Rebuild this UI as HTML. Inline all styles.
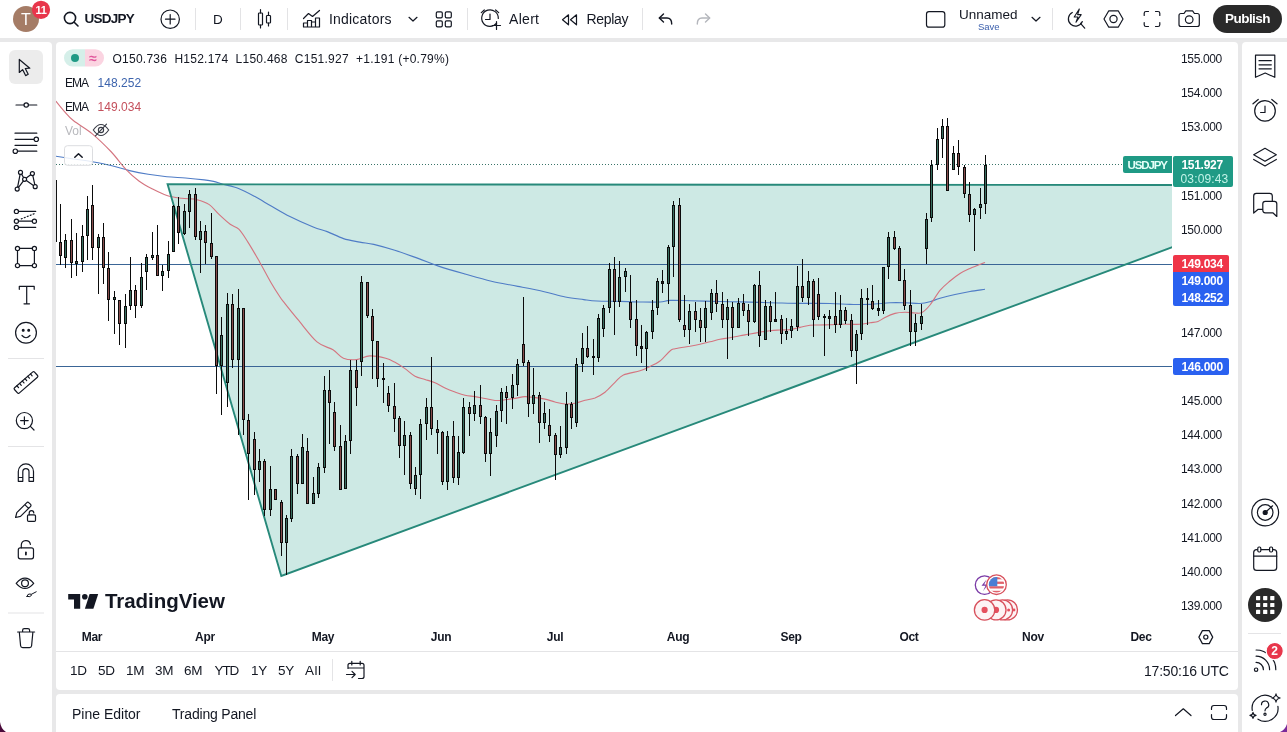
<!DOCTYPE html>
<html><head><meta charset="utf-8"><title>USDJPY</title>
<style>
*{box-sizing:border-box;margin:0;padding:0}
html,body{width:1287px;height:732px;overflow:hidden;background:#e8e8e9;font-family:"Liberation Sans",sans-serif;color:#131722}
.abs{position:absolute}
#top{position:absolute;left:0;top:0;width:1287px;height:38px;background:#fff}
#left{position:absolute;left:0;top:42px;width:52px;height:690px;background:#fff;border-top-right-radius:4px}
#main{position:absolute;left:56px;top:42px;width:1182px;height:648px;background:#fff;border-radius:4px}
#bottom{position:absolute;left:56px;top:694px;width:1182px;height:38px;background:#fff;border-radius:4px 4px 0 0}
#right{position:absolute;left:1242px;top:42px;width:45px;height:690px;background:#fff;border-top-left-radius:4px}
.t14{position:absolute;font-size:14px;line-height:16px;white-space:nowrap;color:#131722}
.sep{position:absolute;top:8px;width:1px;height:22px;background:#e3e3e5}
.pl{position:absolute;left:1181px;width:44px;font-size:12px;line-height:16px;letter-spacing:-0.35px;color:#131722;white-space:nowrap}
.ml{position:absolute;top:629px;width:60px;text-align:center;font-size:12px;line-height:16px;font-weight:bold;color:#131722;letter-spacing:-0.3px}
.tag{position:absolute;color:#fff;font-size:12px;line-height:14px;font-weight:bold;white-space:nowrap;letter-spacing:-0.3px}
.leg{position:absolute;font-size:12px;line-height:16px;white-space:nowrap;letter-spacing:0.25px}
.rng{position:absolute;top:663px;font-size:13.5px;line-height:16px;white-space:nowrap;letter-spacing:-0.2px}
#wrap{position:absolute;left:0;top:0;width:1287px;height:732px;will-change:transform}
</style></head><body><div id="wrap">
<div id="top"></div><div id="left"></div><div id="main"></div><div id="bottom"></div><div id="right"></div>

<svg id="chart" width="1287" height="732" viewBox="0 0 1287 732" style="position:absolute;left:0;top:0">
<defs><clipPath id="pane"><rect x="56" y="42" width="1116" height="578"/></clipPath></defs>
<g clip-path="url(#pane)">
<polygon points="167.6,184.3 1177,185.0 1177,245.5 281.3,576.0" fill="#cde9e4"/>
<g shape-rendering="crispEdges">
<rect x="56" y="264" width="1116" height="1" fill="#3a6596"/>
<rect x="56" y="366" width="1116" height="1" fill="#3a6596"/>
</g>
<path d="M55.9,156.2 C58.8,156.7 67.5,158.1 73.6,159.0 C79.7,159.9 86.1,160.7 92.3,161.8 C98.5,162.9 104.7,164.0 110.9,165.5 C117.1,167.0 123.4,169.1 129.6,170.6 C135.8,172.1 142.0,173.3 148.2,174.3 C154.4,175.3 160.7,176.1 166.9,176.7 C173.1,177.3 179.3,177.5 185.5,178.0 C191.7,178.5 199.5,179.3 204.2,179.9 C208.9,180.5 210.4,180.7 213.5,181.4 C216.6,182.1 218.6,183.0 222.8,184.2 C227.0,185.4 233.2,186.4 238.6,188.5 C243.9,190.6 249.5,193.7 254.9,196.6 C260.3,199.5 265.4,202.7 271.2,206.0 C277.0,209.3 282.9,213.0 289.9,216.5 C296.9,220.0 307.0,224.5 313.2,227.0 C319.4,229.5 322.1,229.7 327.2,231.6 C332.2,233.5 338.1,236.8 343.5,238.6 C348.9,240.3 354.8,241.1 359.8,242.1 C364.9,243.1 368.0,243.0 373.8,244.4 C379.6,245.8 387.4,248.0 394.8,250.3 C402.2,252.6 410.8,255.8 418.1,258.4 C425.4,261.0 430.7,263.5 438.5,266.1 C446.3,268.7 456.2,271.5 465.0,274.0 C473.8,276.5 482.6,279.1 491.4,281.2 C500.2,283.3 509.0,284.6 517.8,286.4 C526.6,288.1 536.3,289.9 544.2,291.7 C552.1,293.5 558.7,295.7 565.3,297.0 C571.9,298.3 578.5,298.9 583.8,299.6 C589.1,300.3 591.0,300.7 597.0,301.0 C603.0,301.3 612.8,301.2 620.0,301.4 C627.2,301.6 633.3,301.9 640.0,302.0 C646.7,302.1 655.0,302.3 660.0,302.0 C665.0,301.7 665.0,300.6 670.0,300.4 C675.0,300.2 681.7,300.5 690.0,300.7 C698.3,300.9 711.7,301.3 720.0,301.5 C728.3,301.7 731.7,301.7 740.0,301.9 C748.3,302.1 760.0,302.4 770.0,302.7 C780.0,302.9 790.0,303.3 800.0,303.4 C810.0,303.5 821.7,303.3 830.0,303.5 C838.3,303.7 843.3,304.2 850.0,304.4 C856.7,304.5 863.3,304.7 870.0,304.4 C876.7,304.1 884.2,303.1 890.0,302.8 C895.8,302.5 900.0,302.7 905.0,302.8 C910.0,302.9 915.8,303.7 920.0,303.5 C924.2,303.3 926.7,302.6 930.0,301.7 C933.3,300.8 935.8,299.5 940.0,298.3 C944.2,297.1 950.0,295.6 955.0,294.5 C960.0,293.4 965.0,292.4 970.0,291.5 C975.0,290.6 982.5,289.7 985.0,289.3" fill="none" stroke="#4f7cc6" stroke-width="1.15"/>
<path d="M55.9,101.2 C57.3,102.9 61.3,108.1 64.3,111.4 C67.2,114.7 68.9,117.1 73.6,120.8 C78.3,124.5 86.1,128.7 92.3,133.8 C98.5,138.9 105.3,145.6 110.9,151.5 C116.5,157.4 121.2,164.4 125.9,169.3 C130.6,174.2 134.6,177.8 138.9,181.0 C143.2,184.2 147.3,186.4 152.0,188.8 C156.7,191.2 161.9,193.9 166.9,195.5 C171.9,197.1 176.8,197.6 181.8,198.3 C186.8,199.0 192.4,198.6 197.0,199.7 C201.6,200.8 205.6,202.1 209.3,204.6 C213.0,207.1 215.5,211.1 219.0,214.4 C222.5,217.7 226.9,221.8 230.2,224.3 C233.5,226.8 235.9,226.2 238.8,229.2 C241.8,232.2 244.4,236.7 247.9,242.1 C251.4,247.5 255.7,255.1 259.6,261.9 C263.5,268.7 267.8,277.0 271.2,282.9 C274.6,288.8 277.7,293.5 280.0,297.0 C282.3,300.5 282.2,300.1 285.2,303.9 C288.2,307.7 292.7,313.4 298.0,319.7 C303.3,326.0 311.2,336.9 317.0,341.9 C322.8,346.9 328.6,347.1 333.0,349.8 C337.4,352.5 339.5,356.6 343.4,358.2 C347.3,359.8 352.2,360.0 356.6,359.6 C361.0,359.2 365.0,356.1 369.8,355.9 C374.6,355.7 381.5,357.2 385.7,358.3 C389.9,359.4 391.8,360.6 395.0,362.3 C398.2,364.0 401.7,366.3 405.0,368.6 C408.3,370.9 411.7,374.4 415.0,376.2 C418.3,378.0 421.7,378.3 425.0,379.4 C428.3,380.5 431.7,381.4 435.0,382.8 C438.3,384.2 441.7,386.5 445.0,388.0 C448.3,389.5 451.7,390.8 455.0,392.0 C458.3,393.2 461.7,394.5 465.0,395.3 C468.3,396.1 471.7,396.1 475.0,396.6 C478.3,397.1 481.7,397.9 485.0,398.5 C488.3,399.1 491.7,400.3 495.0,400.5 C498.3,400.7 501.7,400.2 505.0,399.8 C508.3,399.4 511.7,398.9 515.0,398.4 C518.3,397.9 521.7,396.7 525.0,396.6 C528.3,396.5 531.7,397.2 535.0,397.6 C538.3,398.0 541.7,398.4 545.0,399.1 C548.3,399.8 551.7,401.2 555.0,402.0 C558.3,402.8 561.7,403.8 565.0,404.0 C568.3,404.2 571.7,403.9 575.0,403.3 C578.3,402.7 581.7,401.2 585.0,400.3 C588.3,399.4 591.7,399.2 595.0,397.9 C598.3,396.5 601.7,394.8 605.0,392.2 C608.3,389.6 611.9,385.3 615.0,382.4 C618.1,379.5 619.2,376.9 623.4,375.0 C627.6,373.1 635.6,372.2 640.0,370.8 C644.4,369.4 646.7,368.0 650.0,366.4 C653.3,364.8 656.7,363.6 660.0,361.0 C663.3,358.4 667.5,353.1 670.0,351.0 C672.5,348.9 671.7,349.5 675.0,348.7 C678.3,347.9 685.8,346.9 690.0,346.2 C694.2,345.4 696.7,344.9 700.0,344.2 C703.3,343.5 706.7,342.6 710.0,341.8 C713.3,341.0 716.7,339.9 720.0,339.2 C723.3,338.5 726.7,338.3 730.0,337.7 C733.3,337.1 736.7,336.3 740.0,335.7 C743.3,335.1 746.7,334.6 750.0,334.0 C753.3,333.4 756.7,332.8 760.0,332.2 C763.3,331.6 766.7,331.1 770.0,330.7 C773.3,330.3 776.7,330.2 780.0,330.0 C783.3,329.8 786.7,330.0 790.0,329.6 C793.3,329.2 796.7,328.1 800.0,327.4 C803.3,326.7 806.7,325.6 810.0,325.2 C813.3,324.8 816.7,325.1 820.0,325.0 C823.3,324.9 826.7,324.8 830.0,324.7 C833.3,324.6 836.7,324.4 840.0,324.3 C843.3,324.2 846.7,324.3 850.0,324.3 C853.3,324.3 856.7,324.6 860.0,324.3 C863.3,324.0 867.0,323.2 870.0,322.7 C873.0,322.2 875.5,322.4 878.0,321.5 C880.5,320.6 882.2,318.9 885.0,317.5 C887.8,316.1 891.7,314.3 895.0,313.4 C898.3,312.5 901.7,312.4 905.0,312.3 C908.3,312.2 912.2,313.0 915.0,313.0 C917.8,313.0 919.5,313.8 922.0,312.5 C924.5,311.2 927.0,308.7 930.0,305.0 C933.0,301.3 936.7,294.4 940.0,290.4 C943.3,286.4 946.7,283.8 950.0,281.0 C953.3,278.2 956.7,275.6 960.0,273.5 C963.3,271.4 965.8,270.4 970.0,268.5 C974.2,266.6 982.5,263.4 985.0,262.4" fill="none" stroke="#d4747f" stroke-width="1.1"/>
<line x1="56" y1="164.5" x2="1172" y2="164.5" stroke="#3a7469" stroke-width="1" stroke-dasharray="1 2" shape-rendering="crispEdges"/>
<polyline points="1177,185.0 167.6,184.3 281.3,576.0 1177,245.5" fill="none" stroke="#27897a" stroke-width="1.9" stroke-linejoin="miter"/>
<g shape-rendering="crispEdges">
<rect x="56" y="180" width="1" height="62" fill="#111"/>
<rect x="60" y="204" width="1" height="61" fill="#0b0b0b"/>
<rect x="59" y="242" width="3" height="14" fill="#0b0b0b"/>
<rect x="60" y="243" width="1" height="12" fill="#864c4c"/>
<rect x="65" y="234" width="1" height="34" fill="#0b0b0b"/>
<rect x="64" y="240" width="3" height="18" fill="#0b0b0b"/>
<rect x="65" y="241" width="1" height="16" fill="#386e5f"/>
<rect x="71" y="219" width="1" height="59" fill="#0b0b0b"/>
<rect x="70" y="240" width="3" height="23" fill="#0b0b0b"/>
<rect x="71" y="241" width="1" height="21" fill="#864c4c"/>
<rect x="76" y="233" width="1" height="43" fill="#0b0b0b"/>
<rect x="75" y="261" width="3" height="3" fill="#0b0b0b"/>
<rect x="76" y="262" width="1" height="1" fill="#386e5f"/>
<rect x="82" y="225" width="1" height="47" fill="#0b0b0b"/>
<rect x="81" y="236" width="3" height="26" fill="#0b0b0b"/>
<rect x="82" y="237" width="1" height="24" fill="#386e5f"/>
<rect x="87" y="196" width="1" height="64" fill="#0b0b0b"/>
<rect x="86" y="209" width="3" height="27" fill="#0b0b0b"/>
<rect x="87" y="210" width="1" height="25" fill="#386e5f"/>
<rect x="92" y="185" width="1" height="75" fill="#0b0b0b"/>
<rect x="91" y="205" width="3" height="43" fill="#0b0b0b"/>
<rect x="92" y="206" width="1" height="41" fill="#864c4c"/>
<rect x="98" y="234" width="1" height="60" fill="#0b0b0b"/>
<rect x="97" y="237" width="3" height="11" fill="#0b0b0b"/>
<rect x="98" y="238" width="1" height="9" fill="#386e5f"/>
<rect x="103" y="223" width="1" height="61" fill="#0b0b0b"/>
<rect x="102" y="237" width="3" height="31" fill="#0b0b0b"/>
<rect x="103" y="238" width="1" height="29" fill="#864c4c"/>
<rect x="108" y="252" width="1" height="69" fill="#0b0b0b"/>
<rect x="107" y="268" width="3" height="32" fill="#0b0b0b"/>
<rect x="108" y="269" width="1" height="30" fill="#864c4c"/>
<rect x="114" y="291" width="1" height="43" fill="#0b0b0b"/>
<rect x="113" y="297" width="3" height="3" fill="#0b0b0b"/>
<rect x="114" y="298" width="1" height="1" fill="#386e5f"/>
<rect x="119" y="300" width="1" height="45" fill="#0b0b0b"/>
<rect x="118" y="300" width="3" height="24" fill="#0b0b0b"/>
<rect x="119" y="301" width="1" height="22" fill="#864c4c"/>
<rect x="125" y="294" width="1" height="54" fill="#0b0b0b"/>
<rect x="124" y="306" width="3" height="18" fill="#0b0b0b"/>
<rect x="125" y="307" width="1" height="16" fill="#386e5f"/>
<rect x="130" y="257" width="1" height="53" fill="#0b0b0b"/>
<rect x="129" y="290" width="3" height="16" fill="#0b0b0b"/>
<rect x="130" y="291" width="1" height="14" fill="#386e5f"/>
<rect x="135" y="285" width="1" height="33" fill="#0b0b0b"/>
<rect x="134" y="290" width="3" height="16" fill="#0b0b0b"/>
<rect x="135" y="291" width="1" height="14" fill="#864c4c"/>
<rect x="141" y="263" width="1" height="45" fill="#0b0b0b"/>
<rect x="140" y="277" width="3" height="29" fill="#0b0b0b"/>
<rect x="141" y="278" width="1" height="27" fill="#386e5f"/>
<rect x="146" y="254" width="1" height="36" fill="#0b0b0b"/>
<rect x="145" y="257" width="3" height="15" fill="#0b0b0b"/>
<rect x="146" y="258" width="1" height="13" fill="#386e5f"/>
<rect x="152" y="232" width="1" height="28" fill="#0b0b0b"/>
<rect x="151" y="255" width="3" height="3" fill="#0b0b0b"/>
<rect x="152" y="256" width="1" height="1" fill="#386e5f"/>
<rect x="157" y="225" width="1" height="51" fill="#0b0b0b"/>
<rect x="156" y="255" width="3" height="21" fill="#0b0b0b"/>
<rect x="157" y="256" width="1" height="19" fill="#864c4c"/>
<rect x="162" y="265" width="1" height="26" fill="#0b0b0b"/>
<rect x="161" y="271" width="3" height="5" fill="#0b0b0b"/>
<rect x="162" y="272" width="1" height="3" fill="#386e5f"/>
<rect x="168" y="241" width="1" height="37" fill="#0b0b0b"/>
<rect x="167" y="254" width="3" height="17" fill="#0b0b0b"/>
<rect x="168" y="255" width="1" height="15" fill="#386e5f"/>
<rect x="173" y="205" width="1" height="47" fill="#0b0b0b"/>
<rect x="172" y="206" width="3" height="46" fill="#0b0b0b"/>
<rect x="173" y="207" width="1" height="44" fill="#386e5f"/>
<rect x="178" y="197" width="1" height="47" fill="#0b0b0b"/>
<rect x="177" y="206" width="3" height="27" fill="#0b0b0b"/>
<rect x="178" y="207" width="1" height="25" fill="#864c4c"/>
<rect x="184" y="204" width="1" height="31" fill="#0b0b0b"/>
<rect x="183" y="211" width="3" height="23" fill="#0b0b0b"/>
<rect x="184" y="212" width="1" height="21" fill="#386e5f"/>
<rect x="189" y="190" width="1" height="38" fill="#0b0b0b"/>
<rect x="188" y="194" width="3" height="18" fill="#0b0b0b"/>
<rect x="189" y="195" width="1" height="16" fill="#386e5f"/>
<rect x="195" y="188" width="1" height="52" fill="#0b0b0b"/>
<rect x="194" y="194" width="3" height="43" fill="#0b0b0b"/>
<rect x="195" y="195" width="1" height="41" fill="#864c4c"/>
<rect x="200" y="221" width="1" height="52" fill="#0b0b0b"/>
<rect x="199" y="231" width="3" height="9" fill="#0b0b0b"/>
<rect x="200" y="232" width="1" height="7" fill="#386e5f"/>
<rect x="205" y="225" width="1" height="39" fill="#0b0b0b"/>
<rect x="204" y="231" width="3" height="12" fill="#0b0b0b"/>
<rect x="205" y="232" width="1" height="10" fill="#864c4c"/>
<rect x="211" y="213" width="1" height="46" fill="#0b0b0b"/>
<rect x="210" y="243" width="3" height="14" fill="#0b0b0b"/>
<rect x="211" y="244" width="1" height="12" fill="#864c4c"/>
<rect x="216" y="256" width="1" height="138" fill="#0b0b0b"/>
<rect x="215" y="256" width="3" height="110" fill="#0b0b0b"/>
<rect x="216" y="257" width="1" height="108" fill="#864c4c"/>
<rect x="221" y="317" width="1" height="98" fill="#0b0b0b"/>
<rect x="220" y="335" width="3" height="31" fill="#0b0b0b"/>
<rect x="221" y="336" width="1" height="29" fill="#386e5f"/>
<rect x="227" y="293" width="1" height="114" fill="#0b0b0b"/>
<rect x="226" y="304" width="3" height="79" fill="#0b0b0b"/>
<rect x="227" y="305" width="1" height="77" fill="#386e5f"/>
<rect x="232" y="294" width="1" height="74" fill="#0b0b0b"/>
<rect x="231" y="304" width="3" height="56" fill="#0b0b0b"/>
<rect x="232" y="305" width="1" height="54" fill="#864c4c"/>
<rect x="238" y="289" width="1" height="146" fill="#0b0b0b"/>
<rect x="237" y="308" width="3" height="52" fill="#0b0b0b"/>
<rect x="238" y="309" width="1" height="50" fill="#386e5f"/>
<rect x="243" y="308" width="1" height="127" fill="#0b0b0b"/>
<rect x="242" y="308" width="3" height="112" fill="#0b0b0b"/>
<rect x="243" y="309" width="1" height="110" fill="#864c4c"/>
<rect x="248" y="414" width="1" height="86" fill="#0b0b0b"/>
<rect x="247" y="420" width="3" height="34" fill="#0b0b0b"/>
<rect x="248" y="421" width="1" height="32" fill="#864c4c"/>
<rect x="254" y="432" width="1" height="63" fill="#0b0b0b"/>
<rect x="253" y="439" width="3" height="31" fill="#0b0b0b"/>
<rect x="254" y="440" width="1" height="29" fill="#864c4c"/>
<rect x="259" y="449" width="1" height="33" fill="#0b0b0b"/>
<rect x="258" y="461" width="3" height="9" fill="#0b0b0b"/>
<rect x="259" y="462" width="1" height="7" fill="#386e5f"/>
<rect x="264" y="459" width="1" height="57" fill="#0b0b0b"/>
<rect x="263" y="461" width="3" height="49" fill="#0b0b0b"/>
<rect x="264" y="462" width="1" height="47" fill="#864c4c"/>
<rect x="270" y="466" width="1" height="50" fill="#0b0b0b"/>
<rect x="269" y="489" width="3" height="21" fill="#0b0b0b"/>
<rect x="270" y="490" width="1" height="19" fill="#386e5f"/>
<rect x="275" y="489" width="1" height="11" fill="#0b0b0b"/>
<rect x="274" y="489" width="3" height="11" fill="#0b0b0b"/>
<rect x="275" y="490" width="1" height="9" fill="#864c4c"/>
<rect x="281" y="500" width="1" height="56" fill="#0b0b0b"/>
<rect x="280" y="502" width="3" height="41" fill="#0b0b0b"/>
<rect x="281" y="503" width="1" height="39" fill="#864c4c"/>
<rect x="286" y="515" width="1" height="60" fill="#0b0b0b"/>
<rect x="285" y="518" width="3" height="25" fill="#0b0b0b"/>
<rect x="286" y="519" width="1" height="23" fill="#386e5f"/>
<rect x="291" y="449" width="1" height="73" fill="#0b0b0b"/>
<rect x="290" y="456" width="3" height="63" fill="#0b0b0b"/>
<rect x="291" y="457" width="1" height="61" fill="#386e5f"/>
<rect x="297" y="454" width="1" height="40" fill="#0b0b0b"/>
<rect x="296" y="456" width="3" height="28" fill="#0b0b0b"/>
<rect x="297" y="457" width="1" height="26" fill="#864c4c"/>
<rect x="302" y="434" width="1" height="50" fill="#0b0b0b"/>
<rect x="301" y="447" width="3" height="37" fill="#0b0b0b"/>
<rect x="302" y="448" width="1" height="35" fill="#386e5f"/>
<rect x="307" y="438" width="1" height="66" fill="#0b0b0b"/>
<rect x="306" y="451" width="3" height="53" fill="#0b0b0b"/>
<rect x="307" y="452" width="1" height="51" fill="#864c4c"/>
<rect x="313" y="477" width="1" height="27" fill="#0b0b0b"/>
<rect x="312" y="493" width="3" height="11" fill="#0b0b0b"/>
<rect x="313" y="494" width="1" height="9" fill="#386e5f"/>
<rect x="318" y="463" width="1" height="35" fill="#0b0b0b"/>
<rect x="317" y="467" width="3" height="27" fill="#0b0b0b"/>
<rect x="318" y="468" width="1" height="25" fill="#386e5f"/>
<rect x="324" y="376" width="1" height="97" fill="#0b0b0b"/>
<rect x="323" y="390" width="3" height="78" fill="#0b0b0b"/>
<rect x="324" y="391" width="1" height="76" fill="#386e5f"/>
<rect x="329" y="370" width="1" height="74" fill="#0b0b0b"/>
<rect x="328" y="390" width="3" height="13" fill="#0b0b0b"/>
<rect x="329" y="391" width="1" height="11" fill="#864c4c"/>
<rect x="334" y="402" width="1" height="49" fill="#0b0b0b"/>
<rect x="333" y="412" width="3" height="35" fill="#0b0b0b"/>
<rect x="334" y="413" width="1" height="33" fill="#864c4c"/>
<rect x="340" y="425" width="1" height="65" fill="#0b0b0b"/>
<rect x="339" y="446" width="3" height="44" fill="#0b0b0b"/>
<rect x="340" y="447" width="1" height="42" fill="#864c4c"/>
<rect x="345" y="435" width="1" height="54" fill="#0b0b0b"/>
<rect x="344" y="441" width="3" height="48" fill="#0b0b0b"/>
<rect x="345" y="442" width="1" height="46" fill="#386e5f"/>
<rect x="350" y="360" width="1" height="94" fill="#0b0b0b"/>
<rect x="349" y="370" width="3" height="71" fill="#0b0b0b"/>
<rect x="350" y="371" width="1" height="69" fill="#386e5f"/>
<rect x="356" y="360" width="1" height="46" fill="#0b0b0b"/>
<rect x="355" y="370" width="3" height="18" fill="#0b0b0b"/>
<rect x="356" y="371" width="1" height="16" fill="#864c4c"/>
<rect x="361" y="276" width="1" height="100" fill="#0b0b0b"/>
<rect x="360" y="282" width="3" height="80" fill="#0b0b0b"/>
<rect x="361" y="283" width="1" height="78" fill="#386e5f"/>
<rect x="367" y="282" width="1" height="36" fill="#0b0b0b"/>
<rect x="366" y="282" width="3" height="34" fill="#0b0b0b"/>
<rect x="367" y="283" width="1" height="32" fill="#864c4c"/>
<rect x="372" y="309" width="1" height="70" fill="#0b0b0b"/>
<rect x="371" y="316" width="3" height="25" fill="#0b0b0b"/>
<rect x="372" y="317" width="1" height="23" fill="#864c4c"/>
<rect x="377" y="341" width="1" height="46" fill="#0b0b0b"/>
<rect x="376" y="341" width="3" height="38" fill="#0b0b0b"/>
<rect x="377" y="342" width="1" height="36" fill="#864c4c"/>
<rect x="383" y="363" width="1" height="40" fill="#0b0b0b"/>
<rect x="382" y="378" width="3" height="2" fill="#0b0b0b"/>
<rect x="388" y="386" width="1" height="26" fill="#0b0b0b"/>
<rect x="387" y="393" width="3" height="13" fill="#0b0b0b"/>
<rect x="388" y="394" width="1" height="11" fill="#864c4c"/>
<rect x="394" y="383" width="1" height="49" fill="#0b0b0b"/>
<rect x="393" y="406" width="3" height="13" fill="#0b0b0b"/>
<rect x="394" y="407" width="1" height="11" fill="#864c4c"/>
<rect x="399" y="416" width="1" height="42" fill="#0b0b0b"/>
<rect x="398" y="418" width="3" height="28" fill="#0b0b0b"/>
<rect x="399" y="419" width="1" height="26" fill="#864c4c"/>
<rect x="404" y="421" width="1" height="54" fill="#0b0b0b"/>
<rect x="403" y="435" width="3" height="11" fill="#0b0b0b"/>
<rect x="404" y="436" width="1" height="9" fill="#386e5f"/>
<rect x="410" y="432" width="1" height="57" fill="#0b0b0b"/>
<rect x="409" y="435" width="3" height="49" fill="#0b0b0b"/>
<rect x="410" y="436" width="1" height="47" fill="#864c4c"/>
<rect x="415" y="467" width="1" height="28" fill="#0b0b0b"/>
<rect x="414" y="475" width="3" height="14" fill="#0b0b0b"/>
<rect x="415" y="476" width="1" height="12" fill="#386e5f"/>
<rect x="420" y="419" width="1" height="80" fill="#0b0b0b"/>
<rect x="419" y="424" width="3" height="51" fill="#0b0b0b"/>
<rect x="420" y="425" width="1" height="49" fill="#386e5f"/>
<rect x="426" y="398" width="1" height="42" fill="#0b0b0b"/>
<rect x="425" y="407" width="3" height="17" fill="#0b0b0b"/>
<rect x="426" y="408" width="1" height="15" fill="#386e5f"/>
<rect x="431" y="357" width="1" height="78" fill="#0b0b0b"/>
<rect x="430" y="407" width="3" height="22" fill="#0b0b0b"/>
<rect x="431" y="408" width="1" height="20" fill="#864c4c"/>
<rect x="437" y="420" width="1" height="34" fill="#0b0b0b"/>
<rect x="436" y="429" width="3" height="4" fill="#0b0b0b"/>
<rect x="437" y="430" width="1" height="2" fill="#864c4c"/>
<rect x="442" y="431" width="1" height="54" fill="#0b0b0b"/>
<rect x="441" y="432" width="3" height="50" fill="#0b0b0b"/>
<rect x="442" y="433" width="1" height="48" fill="#864c4c"/>
<rect x="447" y="431" width="1" height="59" fill="#0b0b0b"/>
<rect x="446" y="436" width="3" height="46" fill="#0b0b0b"/>
<rect x="447" y="437" width="1" height="44" fill="#386e5f"/>
<rect x="453" y="421" width="1" height="62" fill="#0b0b0b"/>
<rect x="452" y="436" width="3" height="42" fill="#0b0b0b"/>
<rect x="453" y="437" width="1" height="40" fill="#864c4c"/>
<rect x="458" y="436" width="1" height="49" fill="#0b0b0b"/>
<rect x="457" y="452" width="3" height="26" fill="#0b0b0b"/>
<rect x="458" y="453" width="1" height="24" fill="#386e5f"/>
<rect x="463" y="398" width="1" height="56" fill="#0b0b0b"/>
<rect x="462" y="407" width="3" height="46" fill="#0b0b0b"/>
<rect x="463" y="408" width="1" height="44" fill="#386e5f"/>
<rect x="469" y="402" width="1" height="34" fill="#0b0b0b"/>
<rect x="468" y="407" width="3" height="7" fill="#0b0b0b"/>
<rect x="469" y="408" width="1" height="5" fill="#864c4c"/>
<rect x="474" y="391" width="1" height="30" fill="#0b0b0b"/>
<rect x="473" y="405" width="3" height="9" fill="#0b0b0b"/>
<rect x="474" y="406" width="1" height="7" fill="#386e5f"/>
<rect x="480" y="385" width="1" height="39" fill="#0b0b0b"/>
<rect x="479" y="405" width="3" height="12" fill="#0b0b0b"/>
<rect x="480" y="406" width="1" height="10" fill="#864c4c"/>
<rect x="485" y="416" width="1" height="46" fill="#0b0b0b"/>
<rect x="484" y="417" width="3" height="37" fill="#0b0b0b"/>
<rect x="485" y="418" width="1" height="35" fill="#864c4c"/>
<rect x="490" y="418" width="1" height="58" fill="#0b0b0b"/>
<rect x="489" y="432" width="3" height="22" fill="#0b0b0b"/>
<rect x="490" y="433" width="1" height="20" fill="#386e5f"/>
<rect x="496" y="405" width="1" height="42" fill="#0b0b0b"/>
<rect x="495" y="411" width="3" height="25" fill="#0b0b0b"/>
<rect x="496" y="412" width="1" height="23" fill="#386e5f"/>
<rect x="501" y="388" width="1" height="34" fill="#0b0b0b"/>
<rect x="500" y="392" width="3" height="19" fill="#0b0b0b"/>
<rect x="501" y="393" width="1" height="17" fill="#386e5f"/>
<rect x="506" y="386" width="1" height="38" fill="#0b0b0b"/>
<rect x="505" y="392" width="3" height="6" fill="#0b0b0b"/>
<rect x="506" y="393" width="1" height="4" fill="#864c4c"/>
<rect x="512" y="374" width="1" height="35" fill="#0b0b0b"/>
<rect x="511" y="385" width="3" height="13" fill="#0b0b0b"/>
<rect x="512" y="386" width="1" height="11" fill="#386e5f"/>
<rect x="517" y="359" width="1" height="37" fill="#0b0b0b"/>
<rect x="516" y="364" width="3" height="21" fill="#0b0b0b"/>
<rect x="517" y="365" width="1" height="19" fill="#386e5f"/>
<rect x="523" y="297" width="1" height="69" fill="#0b0b0b"/>
<rect x="522" y="344" width="3" height="19" fill="#0b0b0b"/>
<rect x="523" y="345" width="1" height="17" fill="#864c4c"/>
<rect x="528" y="360" width="1" height="57" fill="#0b0b0b"/>
<rect x="527" y="362" width="3" height="42" fill="#0b0b0b"/>
<rect x="528" y="363" width="1" height="40" fill="#864c4c"/>
<rect x="533" y="368" width="1" height="46" fill="#0b0b0b"/>
<rect x="532" y="395" width="3" height="9" fill="#0b0b0b"/>
<rect x="533" y="396" width="1" height="7" fill="#386e5f"/>
<rect x="539" y="392" width="1" height="51" fill="#0b0b0b"/>
<rect x="538" y="395" width="3" height="28" fill="#0b0b0b"/>
<rect x="539" y="396" width="1" height="26" fill="#864c4c"/>
<rect x="544" y="402" width="1" height="27" fill="#0b0b0b"/>
<rect x="543" y="413" width="3" height="10" fill="#0b0b0b"/>
<rect x="544" y="414" width="1" height="8" fill="#386e5f"/>
<rect x="549" y="409" width="1" height="33" fill="#0b0b0b"/>
<rect x="548" y="425" width="3" height="11" fill="#0b0b0b"/>
<rect x="549" y="426" width="1" height="9" fill="#864c4c"/>
<rect x="555" y="433" width="1" height="47" fill="#0b0b0b"/>
<rect x="554" y="435" width="3" height="20" fill="#0b0b0b"/>
<rect x="555" y="436" width="1" height="18" fill="#864c4c"/>
<rect x="560" y="426" width="1" height="32" fill="#0b0b0b"/>
<rect x="559" y="447" width="3" height="8" fill="#0b0b0b"/>
<rect x="560" y="448" width="1" height="6" fill="#386e5f"/>
<rect x="566" y="392" width="1" height="62" fill="#0b0b0b"/>
<rect x="565" y="404" width="3" height="44" fill="#0b0b0b"/>
<rect x="566" y="405" width="1" height="42" fill="#386e5f"/>
<rect x="571" y="402" width="1" height="27" fill="#0b0b0b"/>
<rect x="570" y="404" width="3" height="14" fill="#0b0b0b"/>
<rect x="571" y="405" width="1" height="12" fill="#864c4c"/>
<rect x="576" y="358" width="1" height="69" fill="#0b0b0b"/>
<rect x="575" y="364" width="3" height="59" fill="#0b0b0b"/>
<rect x="576" y="365" width="1" height="57" fill="#386e5f"/>
<rect x="582" y="333" width="1" height="39" fill="#0b0b0b"/>
<rect x="581" y="348" width="3" height="16" fill="#0b0b0b"/>
<rect x="582" y="349" width="1" height="14" fill="#386e5f"/>
<rect x="587" y="326" width="1" height="32" fill="#0b0b0b"/>
<rect x="586" y="348" width="3" height="9" fill="#0b0b0b"/>
<rect x="587" y="349" width="1" height="7" fill="#864c4c"/>
<rect x="593" y="339" width="1" height="36" fill="#0b0b0b"/>
<rect x="592" y="356" width="3" height="2" fill="#0b0b0b"/>
<rect x="598" y="314" width="1" height="48" fill="#0b0b0b"/>
<rect x="597" y="318" width="3" height="40" fill="#0b0b0b"/>
<rect x="598" y="319" width="1" height="38" fill="#386e5f"/>
<rect x="603" y="305" width="1" height="32" fill="#0b0b0b"/>
<rect x="602" y="308" width="3" height="21" fill="#0b0b0b"/>
<rect x="603" y="309" width="1" height="19" fill="#386e5f"/>
<rect x="609" y="263" width="1" height="50" fill="#0b0b0b"/>
<rect x="608" y="269" width="3" height="39" fill="#0b0b0b"/>
<rect x="609" y="270" width="1" height="37" fill="#386e5f"/>
<rect x="614" y="257" width="1" height="78" fill="#0b0b0b"/>
<rect x="613" y="269" width="3" height="33" fill="#0b0b0b"/>
<rect x="614" y="270" width="1" height="31" fill="#864c4c"/>
<rect x="619" y="261" width="1" height="46" fill="#0b0b0b"/>
<rect x="618" y="277" width="3" height="25" fill="#0b0b0b"/>
<rect x="619" y="278" width="1" height="23" fill="#386e5f"/>
<rect x="625" y="268" width="1" height="24" fill="#0b0b0b"/>
<rect x="624" y="271" width="3" height="6" fill="#0b0b0b"/>
<rect x="625" y="272" width="1" height="4" fill="#386e5f"/>
<rect x="630" y="275" width="1" height="53" fill="#0b0b0b"/>
<rect x="629" y="302" width="3" height="18" fill="#0b0b0b"/>
<rect x="630" y="303" width="1" height="16" fill="#864c4c"/>
<rect x="636" y="300" width="1" height="56" fill="#0b0b0b"/>
<rect x="635" y="319" width="3" height="27" fill="#0b0b0b"/>
<rect x="636" y="320" width="1" height="25" fill="#864c4c"/>
<rect x="641" y="325" width="1" height="38" fill="#0b0b0b"/>
<rect x="640" y="346" width="3" height="3" fill="#0b0b0b"/>
<rect x="641" y="347" width="1" height="1" fill="#222"/>
<rect x="646" y="331" width="1" height="40" fill="#0b0b0b"/>
<rect x="645" y="332" width="3" height="17" fill="#0b0b0b"/>
<rect x="646" y="333" width="1" height="15" fill="#386e5f"/>
<rect x="652" y="300" width="1" height="39" fill="#0b0b0b"/>
<rect x="651" y="310" width="3" height="22" fill="#0b0b0b"/>
<rect x="652" y="311" width="1" height="20" fill="#386e5f"/>
<rect x="657" y="278" width="1" height="37" fill="#0b0b0b"/>
<rect x="656" y="281" width="3" height="27" fill="#0b0b0b"/>
<rect x="657" y="282" width="1" height="25" fill="#386e5f"/>
<rect x="662" y="270" width="1" height="23" fill="#0b0b0b"/>
<rect x="661" y="281" width="3" height="3" fill="#0b0b0b"/>
<rect x="662" y="282" width="1" height="1" fill="#222"/>
<rect x="668" y="245" width="1" height="59" fill="#0b0b0b"/>
<rect x="667" y="247" width="3" height="37" fill="#0b0b0b"/>
<rect x="668" y="248" width="1" height="35" fill="#386e5f"/>
<rect x="673" y="201" width="1" height="76" fill="#0b0b0b"/>
<rect x="672" y="205" width="3" height="42" fill="#0b0b0b"/>
<rect x="673" y="206" width="1" height="40" fill="#386e5f"/>
<rect x="679" y="198" width="1" height="124" fill="#0b0b0b"/>
<rect x="678" y="205" width="3" height="115" fill="#0b0b0b"/>
<rect x="679" y="206" width="1" height="113" fill="#864c4c"/>
<rect x="684" y="295" width="1" height="42" fill="#0b0b0b"/>
<rect x="683" y="325" width="3" height="5" fill="#0b0b0b"/>
<rect x="684" y="326" width="1" height="3" fill="#864c4c"/>
<rect x="689" y="304" width="1" height="40" fill="#0b0b0b"/>
<rect x="688" y="311" width="3" height="19" fill="#0b0b0b"/>
<rect x="689" y="312" width="1" height="17" fill="#386e5f"/>
<rect x="695" y="302" width="1" height="30" fill="#0b0b0b"/>
<rect x="694" y="311" width="3" height="9" fill="#0b0b0b"/>
<rect x="695" y="312" width="1" height="7" fill="#864c4c"/>
<rect x="700" y="308" width="1" height="34" fill="#0b0b0b"/>
<rect x="699" y="320" width="3" height="8" fill="#0b0b0b"/>
<rect x="700" y="321" width="1" height="6" fill="#864c4c"/>
<rect x="705" y="301" width="1" height="41" fill="#0b0b0b"/>
<rect x="704" y="308" width="3" height="20" fill="#0b0b0b"/>
<rect x="705" y="309" width="1" height="18" fill="#386e5f"/>
<rect x="711" y="289" width="1" height="31" fill="#0b0b0b"/>
<rect x="710" y="293" width="3" height="20" fill="#0b0b0b"/>
<rect x="711" y="294" width="1" height="18" fill="#386e5f"/>
<rect x="716" y="280" width="1" height="32" fill="#0b0b0b"/>
<rect x="715" y="293" width="3" height="11" fill="#0b0b0b"/>
<rect x="716" y="294" width="1" height="9" fill="#864c4c"/>
<rect x="722" y="292" width="1" height="36" fill="#0b0b0b"/>
<rect x="721" y="304" width="3" height="16" fill="#0b0b0b"/>
<rect x="722" y="305" width="1" height="14" fill="#864c4c"/>
<rect x="727" y="299" width="1" height="60" fill="#0b0b0b"/>
<rect x="726" y="307" width="3" height="13" fill="#0b0b0b"/>
<rect x="727" y="308" width="1" height="11" fill="#386e5f"/>
<rect x="732" y="302" width="1" height="38" fill="#0b0b0b"/>
<rect x="731" y="307" width="3" height="21" fill="#0b0b0b"/>
<rect x="732" y="308" width="1" height="19" fill="#864c4c"/>
<rect x="738" y="298" width="1" height="30" fill="#0b0b0b"/>
<rect x="737" y="303" width="3" height="25" fill="#0b0b0b"/>
<rect x="738" y="304" width="1" height="23" fill="#386e5f"/>
<rect x="743" y="294" width="1" height="22" fill="#0b0b0b"/>
<rect x="742" y="303" width="3" height="8" fill="#0b0b0b"/>
<rect x="743" y="304" width="1" height="6" fill="#864c4c"/>
<rect x="748" y="304" width="1" height="32" fill="#0b0b0b"/>
<rect x="747" y="310" width="3" height="12" fill="#0b0b0b"/>
<rect x="748" y="311" width="1" height="10" fill="#864c4c"/>
<rect x="754" y="284" width="1" height="39" fill="#0b0b0b"/>
<rect x="753" y="285" width="3" height="37" fill="#0b0b0b"/>
<rect x="754" y="286" width="1" height="35" fill="#386e5f"/>
<rect x="759" y="271" width="1" height="76" fill="#0b0b0b"/>
<rect x="758" y="285" width="3" height="51" fill="#0b0b0b"/>
<rect x="759" y="286" width="1" height="49" fill="#864c4c"/>
<rect x="765" y="300" width="1" height="40" fill="#0b0b0b"/>
<rect x="764" y="306" width="3" height="34" fill="#0b0b0b"/>
<rect x="765" y="307" width="1" height="32" fill="#386e5f"/>
<rect x="770" y="301" width="1" height="31" fill="#0b0b0b"/>
<rect x="769" y="306" width="3" height="16" fill="#0b0b0b"/>
<rect x="770" y="307" width="1" height="14" fill="#864c4c"/>
<rect x="775" y="292" width="1" height="30" fill="#0b0b0b"/>
<rect x="774" y="319" width="3" height="3" fill="#0b0b0b"/>
<rect x="775" y="320" width="1" height="1" fill="#222"/>
<rect x="781" y="315" width="1" height="29" fill="#0b0b0b"/>
<rect x="780" y="319" width="3" height="15" fill="#0b0b0b"/>
<rect x="781" y="320" width="1" height="13" fill="#864c4c"/>
<rect x="786" y="318" width="1" height="22" fill="#0b0b0b"/>
<rect x="785" y="331" width="3" height="3" fill="#0b0b0b"/>
<rect x="786" y="332" width="1" height="1" fill="#386e5f"/>
<rect x="791" y="319" width="1" height="19" fill="#0b0b0b"/>
<rect x="790" y="326" width="3" height="5" fill="#0b0b0b"/>
<rect x="791" y="327" width="1" height="3" fill="#386e5f"/>
<rect x="797" y="266" width="1" height="65" fill="#0b0b0b"/>
<rect x="796" y="286" width="3" height="41" fill="#0b0b0b"/>
<rect x="797" y="287" width="1" height="39" fill="#386e5f"/>
<rect x="802" y="259" width="1" height="43" fill="#0b0b0b"/>
<rect x="801" y="286" width="3" height="12" fill="#0b0b0b"/>
<rect x="802" y="287" width="1" height="10" fill="#864c4c"/>
<rect x="808" y="271" width="1" height="34" fill="#0b0b0b"/>
<rect x="807" y="281" width="3" height="17" fill="#0b0b0b"/>
<rect x="808" y="282" width="1" height="15" fill="#386e5f"/>
<rect x="813" y="279" width="1" height="58" fill="#0b0b0b"/>
<rect x="812" y="281" width="3" height="39" fill="#0b0b0b"/>
<rect x="813" y="282" width="1" height="37" fill="#864c4c"/>
<rect x="818" y="278" width="1" height="42" fill="#0b0b0b"/>
<rect x="817" y="294" width="3" height="23" fill="#0b0b0b"/>
<rect x="818" y="295" width="1" height="21" fill="#864c4c"/>
<rect x="824" y="314" width="1" height="42" fill="#0b0b0b"/>
<rect x="823" y="316" width="3" height="2" fill="#0b0b0b"/>
<rect x="829" y="310" width="1" height="19" fill="#0b0b0b"/>
<rect x="828" y="316" width="3" height="3" fill="#0b0b0b"/>
<rect x="829" y="317" width="1" height="1" fill="#222"/>
<rect x="835" y="292" width="1" height="41" fill="#0b0b0b"/>
<rect x="834" y="316" width="3" height="9" fill="#0b0b0b"/>
<rect x="835" y="317" width="1" height="7" fill="#864c4c"/>
<rect x="840" y="295" width="1" height="33" fill="#0b0b0b"/>
<rect x="839" y="310" width="3" height="15" fill="#0b0b0b"/>
<rect x="840" y="311" width="1" height="13" fill="#386e5f"/>
<rect x="845" y="307" width="1" height="17" fill="#0b0b0b"/>
<rect x="844" y="310" width="3" height="11" fill="#0b0b0b"/>
<rect x="845" y="311" width="1" height="9" fill="#864c4c"/>
<rect x="851" y="314" width="1" height="43" fill="#0b0b0b"/>
<rect x="850" y="320" width="3" height="31" fill="#0b0b0b"/>
<rect x="851" y="321" width="1" height="29" fill="#864c4c"/>
<rect x="856" y="330" width="1" height="54" fill="#0b0b0b"/>
<rect x="855" y="334" width="3" height="17" fill="#0b0b0b"/>
<rect x="856" y="335" width="1" height="15" fill="#386e5f"/>
<rect x="861" y="289" width="1" height="51" fill="#0b0b0b"/>
<rect x="860" y="298" width="3" height="36" fill="#0b0b0b"/>
<rect x="861" y="299" width="1" height="34" fill="#386e5f"/>
<rect x="867" y="288" width="1" height="37" fill="#0b0b0b"/>
<rect x="866" y="298" width="3" height="2" fill="#0b0b0b"/>
<rect x="872" y="285" width="1" height="25" fill="#0b0b0b"/>
<rect x="871" y="301" width="3" height="8" fill="#0b0b0b"/>
<rect x="872" y="302" width="1" height="6" fill="#864c4c"/>
<rect x="878" y="300" width="1" height="16" fill="#0b0b0b"/>
<rect x="877" y="308" width="3" height="3" fill="#0b0b0b"/>
<rect x="878" y="309" width="1" height="1" fill="#222"/>
<rect x="883" y="267" width="1" height="47" fill="#0b0b0b"/>
<rect x="882" y="267" width="3" height="44" fill="#0b0b0b"/>
<rect x="883" y="268" width="1" height="42" fill="#386e5f"/>
<rect x="888" y="232" width="1" height="47" fill="#0b0b0b"/>
<rect x="887" y="237" width="3" height="30" fill="#0b0b0b"/>
<rect x="888" y="238" width="1" height="28" fill="#386e5f"/>
<rect x="894" y="231" width="1" height="19" fill="#0b0b0b"/>
<rect x="893" y="237" width="3" height="12" fill="#0b0b0b"/>
<rect x="894" y="238" width="1" height="10" fill="#864c4c"/>
<rect x="899" y="246" width="1" height="35" fill="#0b0b0b"/>
<rect x="898" y="248" width="3" height="33" fill="#0b0b0b"/>
<rect x="899" y="249" width="1" height="31" fill="#864c4c"/>
<rect x="904" y="269" width="1" height="41" fill="#0b0b0b"/>
<rect x="903" y="280" width="3" height="26" fill="#0b0b0b"/>
<rect x="904" y="281" width="1" height="24" fill="#864c4c"/>
<rect x="910" y="290" width="1" height="56" fill="#0b0b0b"/>
<rect x="909" y="305" width="3" height="27" fill="#0b0b0b"/>
<rect x="910" y="306" width="1" height="25" fill="#864c4c"/>
<rect x="915" y="314" width="1" height="32" fill="#0b0b0b"/>
<rect x="914" y="323" width="3" height="9" fill="#0b0b0b"/>
<rect x="915" y="324" width="1" height="7" fill="#386e5f"/>
<rect x="921" y="304" width="1" height="26" fill="#0b0b0b"/>
<rect x="920" y="316" width="3" height="8" fill="#0b0b0b"/>
<rect x="921" y="317" width="1" height="6" fill="#386e5f"/>
<rect x="926" y="213" width="1" height="51" fill="#0b0b0b"/>
<rect x="925" y="219" width="3" height="30" fill="#0b0b0b"/>
<rect x="926" y="220" width="1" height="28" fill="#386e5f"/>
<rect x="931" y="160" width="1" height="62" fill="#0b0b0b"/>
<rect x="930" y="165" width="3" height="53" fill="#0b0b0b"/>
<rect x="931" y="166" width="1" height="51" fill="#386e5f"/>
<rect x="937" y="128" width="1" height="42" fill="#0b0b0b"/>
<rect x="936" y="139" width="3" height="26" fill="#0b0b0b"/>
<rect x="937" y="140" width="1" height="24" fill="#386e5f"/>
<rect x="942" y="119" width="1" height="39" fill="#0b0b0b"/>
<rect x="941" y="126" width="3" height="13" fill="#0b0b0b"/>
<rect x="942" y="127" width="1" height="11" fill="#386e5f"/>
<rect x="947" y="118" width="1" height="73" fill="#0b0b0b"/>
<rect x="946" y="126" width="3" height="65" fill="#0b0b0b"/>
<rect x="947" y="127" width="1" height="63" fill="#864c4c"/>
<rect x="953" y="146" width="1" height="24" fill="#0b0b0b"/>
<rect x="952" y="153" width="3" height="17" fill="#0b0b0b"/>
<rect x="953" y="154" width="1" height="15" fill="#386e5f"/>
<rect x="958" y="140" width="1" height="35" fill="#0b0b0b"/>
<rect x="957" y="153" width="3" height="14" fill="#0b0b0b"/>
<rect x="958" y="154" width="1" height="12" fill="#864c4c"/>
<rect x="964" y="165" width="1" height="33" fill="#0b0b0b"/>
<rect x="963" y="167" width="3" height="27" fill="#0b0b0b"/>
<rect x="964" y="168" width="1" height="25" fill="#864c4c"/>
<rect x="969" y="182" width="1" height="40" fill="#0b0b0b"/>
<rect x="968" y="194" width="3" height="21" fill="#0b0b0b"/>
<rect x="969" y="195" width="1" height="19" fill="#864c4c"/>
<rect x="974" y="208" width="1" height="43" fill="#0b0b0b"/>
<rect x="973" y="209" width="3" height="6" fill="#0b0b0b"/>
<rect x="974" y="210" width="1" height="4" fill="#386e5f"/>
<rect x="980" y="188" width="1" height="31" fill="#0b0b0b"/>
<rect x="979" y="204" width="3" height="4" fill="#0b0b0b"/>
<rect x="980" y="205" width="1" height="2" fill="#386e5f"/>
<rect x="985" y="155" width="1" height="59" fill="#0b0b0b"/>
<rect x="984" y="165" width="3" height="39" fill="#0b0b0b"/>
<rect x="985" y="166" width="1" height="37" fill="#386e5f"/>
</g>
</g>
</svg>


<div class="t14" style="left:84.5px;top:11px;font-size:13.5px;font-weight:bold;letter-spacing:-0.75px">USDJPY</div>
<div class="sep" style="left:195px"></div>
<div class="t14" style="left:213px;top:11.5px;font-size:13.5px">D</div>
<div class="sep" style="left:240px"></div>
<div class="sep" style="left:287px"></div>
<div class="t14" style="left:329px;top:11px;letter-spacing:0.2px">Indicators</div>
<div class="sep" style="left:467px"></div>
<div class="t14" style="left:509px;top:11px;letter-spacing:0.3px">Alert</div>
<div class="t14" style="left:586.5px;top:11px;letter-spacing:-0.3px">Replay</div>
<div class="sep" style="left:642px"></div>
<div class="t14" style="left:959px;top:6.5px;font-size:13.5px">Unnamed</div>
<div class="abs" style="left:978px;top:21px;font-size:9.5px;line-height:11px;color:#3c60ad">Save</div>
<div class="sep" style="left:1052px"></div>
<div class="abs" style="left:1213px;top:5px;width:69px;height:28px;border-radius:14px;background:#2a2a2a;color:#fff;font-size:13.5px;line-height:28px;text-align:center;font-weight:bold;letter-spacing:-0.55px">Publish</div>


<div class="leg" style="left:112.5px;top:51px"><span>O</span>150.736&nbsp; H152.174&nbsp; L150.468&nbsp; C151.927&nbsp; +1.191 (+0.79%)</div>
<div class="leg" style="left:65px;top:75px;letter-spacing:-0.95px">EMA</div><div class="leg" style="left:97.5px;top:75px;color:#3d64ad;letter-spacing:0.05px">148.252</div>
<div class="leg" style="left:65px;top:99px;letter-spacing:-0.95px">EMA</div><div class="leg" style="left:97.5px;top:99px;color:#c4505c;letter-spacing:0.05px">149.034</div>
<div class="leg" style="left:65px;top:123px;color:#b8b9bd;letter-spacing:0">Vol</div>
<div class="abs" style="left:105px;top:589px;font-size:20.5px;line-height:24px;font-weight:bold;letter-spacing:-0.05px;color:#131722">TradingView</div>

<div class="pl" style="top:51px">155.000</div>
<div class="pl" style="top:85px">154.000</div>
<div class="pl" style="top:119px">153.000</div>
<div class="pl" style="top:188px">151.000</div>
<div class="pl" style="top:222px">150.000</div>
<div class="pl" style="top:325px">147.000</div>
<div class="pl" style="top:393px">145.000</div>
<div class="pl" style="top:427px">144.000</div>
<div class="pl" style="top:461px">143.000</div>
<div class="pl" style="top:496px">142.000</div>
<div class="pl" style="top:530px">141.000</div>
<div class="pl" style="top:564px">140.000</div>
<div class="pl" style="top:598px">139.000</div>

<div class="ml" style="left:62px">Mar</div><div class="ml" style="left:175px">Apr</div><div class="ml" style="left:293px">May</div><div class="ml" style="left:411px">Jun</div><div class="ml" style="left:525px">Jul</div><div class="ml" style="left:648px">Aug</div><div class="ml" style="left:761px">Sep</div><div class="ml" style="left:879px">Oct</div><div class="ml" style="left:1003px">Nov</div><div class="ml" style="left:1111px">Dec</div>

<div class="abs" style="left:1123px;top:156px;width:49px;height:17px;background:#1f9a85;border-radius:2px 0 0 2px"></div>
<div class="tag" style="left:1127.5px;top:157.5px;color:#e4fff8;font-size:11.5px;letter-spacing:-1.1px">USDJPY</div>
<div class="abs" style="left:1173px;top:156px;width:60px;height:31px;background:#1f9a85;border-radius:2px"></div>
<div class="tag" style="left:1181.5px;top:157.5px">151.927</div>
<div class="tag" style="left:1180.5px;top:171.5px;font-weight:normal;color:#c2f3e8;letter-spacing:0.15px">03:09:43</div>
<div class="abs" style="left:1173px;top:255px;width:56px;height:17px;background:#ef3548;border-radius:2px 2px 0 0"></div>
<div class="tag" style="left:1181.5px;top:256.5px">149.034</div>
<div class="abs" style="left:1173px;top:272px;width:56px;height:34px;background:#2a61f0;border-radius:0 0 2px 2px"></div>
<div class="tag" style="left:1181.5px;top:273.5px">149.000</div>
<div class="tag" style="left:1181.5px;top:290.5px">148.252</div>
<div class="abs" style="left:1173px;top:358px;width:56px;height:17px;background:#2a61f0;border-radius:2px"></div>
<div class="tag" style="left:1181.5px;top:359.5px">146.000</div>


<div class="abs" style="left:56px;top:651px;width:1182px;height:1px;background:#e4e4e6"></div>
<div class="rng" style="left:70px">1D</div><div class="rng" style="left:98px">5D</div><div class="rng" style="left:126px">1M</div>
<div class="rng" style="left:155px">3M</div><div class="rng" style="left:184px">6M</div><div class="rng" style="left:214.5px;letter-spacing:-1.1px">YTD</div>
<div class="rng" style="left:251px">1Y</div><div class="rng" style="left:278px">5Y</div><div class="rng" style="left:305px;letter-spacing:0.5px">All</div>
<div class="abs" style="left:332px;top:659px;width:1px;height:22px;background:#e4e4e6"></div>
<div class="rng" style="left:1144px;font-size:14px;letter-spacing:-0.2px">17:50:16 UTC</div>
<div class="t14" style="left:72px;top:705.5px;font-size:14px;letter-spacing:0px">Pine Editor</div>
<div class="t14" style="left:172px;top:705.5px;font-size:14px;letter-spacing:-0.2px">Trading Panel</div>

<svg id="ui" width="1287" height="732" viewBox="0 0 1287 732" style="position:absolute;left:0;top:0">
<circle cx="26" cy="19" r="13" fill="#a57c66"/>
<text x="26" y="24.5" font-size="16" fill="#fff" text-anchor="middle" font-family="Liberation Sans">T</text>
<circle cx="41" cy="9.8" r="9.1" fill="#e8364b"/>
<text x="41" y="14" font-size="11" font-weight="bold" fill="#fff" text-anchor="middle" font-family="Liberation Sans" letter-spacing="-0.3">11</text>
<g stroke="#131722" stroke-width="1.6" fill="none" stroke-linecap="round" stroke-linejoin="round"><circle cx="70" cy="18" r="5.6"/><path d="M74.2,22.2 L78,26"/></g>
<g stroke="#131722" stroke-width="1.2" fill="none" stroke-linecap="round" stroke-linejoin="round"><circle cx="170.2" cy="19.2" r="9.2"/><path d="M165.5,19.2 H175 M170.2,14.5 V24"/></g>
<g stroke="#131722" stroke-width="1.2" fill="none" stroke-linecap="round" stroke-linejoin="round"><rect x="258.5" y="13" width="4" height="12" rx="0.8"/><path d="M260.5,9.5 V13 M260.5,25 V28"/><rect x="266.5" y="15.5" width="4" height="7.5" rx="0.8"/><path d="M268.5,12 V15.5 M268.5,23 V26"/></g>
<g stroke="#131722" stroke-width="1.2" fill="none" stroke-linecap="round" stroke-linejoin="round"><path d="M303.5,18.5 L308.5,13.5 L312.5,16.5 L319.5,10.5"/><path d="M303.5,27 V23 H307.5 V27 M307.5,27 V20.5 H311.5 V27 M311.5,27 V22 H315.5 V27 M315.5,27 V18 H319.5 V27 Z M303.5,27 H319.5"/></g>
<g stroke="#131722" stroke-width="1.2" fill="none" stroke-linecap="round" stroke-linejoin="round"><path d="M409,17.3 L413,21 L417,17.3"/></g>
<g stroke="#131722" stroke-width="1.2" fill="none" stroke-linecap="round" stroke-linejoin="round"><rect x="436.3" y="11.8" width="6" height="6" rx="1.3"/><rect x="445.3" y="11.8" width="6" height="6" rx="1.3"/><rect x="436.3" y="20.8" width="6" height="6" rx="1.3"/><rect x="445.3" y="20.8" width="6" height="6" rx="1.3"/></g>
<g stroke="#131722" stroke-width="1.2" fill="none" stroke-linecap="round" stroke-linejoin="round"><path d="M496.6,23.2 A8.3,8.3 0 1 1 498.3,18.5"/><path d="M490,14 V19.5 H485.5"/><path d="M481.3,12.6 L484.3,10 M495.6,10 L498.7,12.6"/><path d="M492.5,25.5 H500.5 M496.5,21.5 V29.5"/></g>
<g stroke="#131722" stroke-width="1.2" fill="none" stroke-linecap="round" stroke-linejoin="round"><path d="M568.5,14.8 L562.5,19.8 L568.5,24.8 Z"/><path d="M576.5,14.8 L570.5,19.8 L576.5,24.8 Z"/></g>
<g stroke="#131722" stroke-width="1.4" fill="none" stroke-linecap="round" stroke-linejoin="round"><path d="M663.5,14 L659.3,18 L663.5,22"/><path d="M659.5,18 H667 Q671.7,18 671.7,24"/></g>
<g stroke="#b4b6bc" stroke-width="1.4" fill="none" stroke-linecap="round" stroke-linejoin="round"><path d="M705.5,14 L709.7,18 L705.5,22"/><path d="M709.5,18 H702 Q697.3,18 697.3,24"/></g>
<g stroke="#131722" stroke-width="1.2" fill="none" stroke-linecap="round" stroke-linejoin="round"><rect x="926.5" y="11.6" width="18.3" height="15.6" rx="2.5"/></g>
<g stroke="#131722" stroke-width="1.2" fill="none" stroke-linecap="round" stroke-linejoin="round"><path d="M1032,17.3 L1036,21 L1040,17.3"/></g>
<g stroke="#131722" stroke-width="1.2" fill="none" stroke-linecap="round" stroke-linejoin="round"><path d="M1072.3,12.5 A7.2,7.2 0 1 0 1082.3,21.5"/><path d="M1080.5,23.3 L1084.7,28.2"/><path d="M1079.3,9 L1074.2,17 H1078 L1076,22.2 L1081.2,14.6 H1077.6 Z" stroke-width="1.1"/></g>
<g stroke="#131722" stroke-width="1.2" fill="none" stroke-linecap="round" stroke-linejoin="round"><path d="M1108.8,10.8 H1118.2 L1123,19 L1118.2,27.2 H1108.8 L1104,19 Z"/><circle cx="1113.5" cy="19" r="3.6"/></g>
<g stroke="#131722" stroke-width="1.2" fill="none" stroke-linecap="round" stroke-linejoin="round"><path d="M1144.2,15.5 V13.3 Q1144.2,11.5 1146,11.5 H1148.5 M1155.5,11.5 H1158 Q1159.8,11.5 1159.8,13.3 V15.5 M1159.8,22.5 V24.7 Q1159.8,26.5 1158,26.5 H1155.5 M1148.5,26.5 H1146 Q1144.2,26.5 1144.2,24.7 V22.5"/></g>
<g stroke="#131722" stroke-width="1.2" fill="none" stroke-linecap="round" stroke-linejoin="round"><path d="M1181,13.5 H1184 L1185.8,10.8 H1192.6 L1194.4,13.5 H1197.3 Q1199.3,13.5 1199.3,15.5 V24.5 Q1199.3,26.5 1197.3,26.5 H1181 Q1179,26.5 1179,24.5 V15.5 Q1179,13.5 1181,13.5 Z"/><circle cx="1189.2" cy="19.6" r="3.8"/></g>
<rect x="9" y="50" width="34" height="34" rx="6" fill="#ececec"/>
<g stroke="#131722" stroke-width="1.2" fill="none" stroke-linecap="round" stroke-linejoin="round"><path d="M19.3,59.5 L19.3,72.5 L22.6,69.6 L25.6,75.6 L28.2,74.3 L25.3,68.5 L29.8,68.2 Z"/></g>
<g stroke="#131722" stroke-width="1.2" fill="none" stroke-linecap="round" stroke-linejoin="round"><path d="M16,105 H24 M28.4,105 H36.8"/><circle cx="26.2" cy="105" r="2.2"/></g>
<g stroke="#131722" stroke-width="1.2" fill="none" stroke-linecap="round" stroke-linejoin="round"><path d="M15,133.2 H36.8 M15,139.3 H34 M15,145.3 H36.8 M17.6,151.2 H36.8"/><circle cx="36.3" cy="139.3" r="2.2" fill="#fff"/><circle cx="15.3" cy="151.2" r="2.2" fill="#fff"/></g>
<g stroke="#131722" stroke-width="1.2" fill="none" stroke-linecap="round" stroke-linejoin="round"><path d="M20.5,172.4 L17.2,189.1 M20.5,172.4 L24.6,179.3 M17.2,189.1 L24.6,179.3 M24.6,179.3 L32.4,173.6 M32.4,173.6 L35.2,186.7 M24.6,179.3 L35.2,186.7 "/><circle cx="20.5" cy="172.4" r="2" fill="#fff"/><circle cx="32.4" cy="173.6" r="2" fill="#fff"/><circle cx="24.6" cy="179.3" r="2" fill="#fff"/><circle cx="35.2" cy="186.7" r="2" fill="#fff"/><circle cx="17.2" cy="189.1" r="2" fill="#fff"/></g>
<g stroke="#131722" stroke-width="1.2" fill="none" stroke-linecap="round" stroke-linejoin="round"><path d="M18.5,211.4 H35.7 M18.5,221.2 H32.3 M18.5,227.4 H35.7"/><path d="M21.3,218.9 L34.4,213.7" stroke-dasharray="1 2.2"/><circle cx="16.4" cy="211.4" r="2.1" /><circle cx="16.4" cy="221.2" r="2.1" /><circle cx="34.4" cy="221.2" r="2.1" /><circle cx="16.4" cy="227.4" r="2.1" /></g>
<g stroke="#131722" stroke-width="1.2" fill="none" stroke-linecap="round" stroke-linejoin="round"><path d="M19.6,248.4 H32.3 M19.6,265.6 H32.3 M17.5,250.5 V263.5 M34.4,250.5 V263.5"/><circle cx="17.5" cy="248.4" r="2.1" /><circle cx="34.4" cy="248.4" r="2.1" /><circle cx="17.5" cy="265.6" r="2.1" /><circle cx="34.4" cy="265.6" r="2.1" /></g>
<g stroke="#131722" stroke-width="1.2" fill="none" stroke-linecap="round" stroke-linejoin="round"><path d="M19.3,289.3 V286.3 H34.2 V289.3 M26.7,286.3 V303.8 M24,303.8 H29.5"/></g>
<g stroke="#131722" stroke-width="1.2" fill="none" stroke-linecap="round" stroke-linejoin="round"><circle cx="26" cy="332.8" r="10.4"/><path d="M22,335.5 Q26,340 30,335.5"/><circle cx="23.2" cy="330.3" r="0.9" fill="#131722"/><circle cx="28.7" cy="330.3" r="0.9" fill="#131722"/></g>
<rect x="8" y="358" width="36" height="1" fill="#e4e4e6"/>
<g stroke="#131722" stroke-width="1.2" fill="none" stroke-linecap="round" stroke-linejoin="round" transform="translate(26,382.5) rotate(-41)"><rect x="-13.3" y="-3.5" width="26.6" height="7" rx="1.2"/><path d="M-9,-3.5 V-1 M-5.4,-3.5 V-1 M-1.8,-3.5 V-1 M1.8,-3.5 V-1 M5.4,-3.5 V-1 M9,-3.5 V-1"/></g>
<g stroke="#131722" stroke-width="1.2" fill="none" stroke-linecap="round" stroke-linejoin="round"><circle cx="24.4" cy="420.6" r="8.1"/><path d="M30.4,426.4 L34,430 M20.6,420.6 H28.2 M24.4,416.8 V424.4"/></g>
<rect x="8" y="446" width="36" height="1" fill="#e4e4e6"/>
<g stroke="#131722" stroke-width="1.2" fill="none" stroke-linecap="round" stroke-linejoin="round"><path d="M18.3,481.3 V471.5 A7.6,7.6 0 0 1 33.5,471.5 V481.3 H29 V471.7 A3.1,3.1 0 0 0 22.8,471.7 V481.3 Z M18.3,477.5 H22.8 M29,477.5 H33.5"/></g>
<g stroke="#131722" stroke-width="1.2" fill="none" stroke-linecap="round" stroke-linejoin="round"><path d="M15.6,517.5 L16.8,512.6 L26.6,502.8 Q27.8,501.6 29,502.8 L30.4,504.2 Q31.6,505.4 30.4,506.6 L20.5,516.4 Z M24.8,504.6 L28.6,508.4"/><rect x="27.5" y="514.8" width="8" height="6.6" rx="1.2" fill="#fff"/><path d="M29.2,514.8 V513 A2.3,2.3 0 0 1 33.8,513"/></g>
<g stroke="#131722" stroke-width="1.2" fill="none" stroke-linecap="round" stroke-linejoin="round"><rect x="18.3" y="547.8" width="15.2" height="11" rx="2"/><path d="M21.3,547.8 V545 A4.6,4.6 0 0 1 30.4,544.3"/><path d="M25.9,552.3 V554.5" stroke-width="1.8"/></g>
<g stroke="#131722" stroke-width="1.2" fill="none" stroke-linecap="round" stroke-linejoin="round"><path d="M16.2,583.3 Q25,573 33.7,583.3 Q25,593.6 16.2,583.3 Z"/><circle cx="25" cy="583.3" r="3.4"/><path d="M27,596.5 Q27.3,593.6 30.2,593.9 L31.6,595.2 Q30.5,597.4 27,596.5 Z M31,594.5 L36.2,591.8" stroke-width="1"/></g>
<rect x="8" y="612.5" width="36" height="1" fill="#e4e4e6"/>
<g stroke="#131722" stroke-width="1.2" fill="none" stroke-linecap="round" stroke-linejoin="round"><path d="M17.6,632 H34.6 M22.6,632 V630.3 Q22.6,628.6 24.3,628.6 H27.9 Q29.6,628.6 29.6,630.3 V632 M19.3,632 L20.6,645.7 Q20.8,647.6 22.7,647.6 H29.5 Q31.4,647.6 31.6,645.7 L32.9,632"/></g>
<g stroke="#131722" stroke-width="1.2" fill="none" stroke-linecap="round" stroke-linejoin="round"><path d="M1255.5,55.2 H1274.8 V77.3 L1265.2,73 L1255.5,77.3 Z M1259,60.7 H1271.3 M1259,64.8 H1271.3 M1259,68.8 H1271.3"/></g>
<g stroke="#131722" stroke-width="1.2" fill="none" stroke-linecap="round" stroke-linejoin="round"><circle cx="1265" cy="110.9" r="10.3"/><path d="M1265,106 V112.5 H1260.6 M1253,103.8 L1258.2,99.5 M1271.8,99.5 L1277,103.8"/></g>
<g stroke="#131722" stroke-width="1.2" fill="none" stroke-linecap="round" stroke-linejoin="round"><path d="M1265,148.3 L1276.3,154.8 L1265,161.3 L1253.7,154.8 Z M1253.7,159.4 L1265,166 L1276.3,159.4"/></g>
<g stroke="#131722" stroke-width="1.2" fill="none" stroke-linecap="round" stroke-linejoin="round"><path d="M1262.5,209.3 H1258.2 L1253.7,213 V196 Q1253.7,193.3 1256.4,193.3 H1269.6 Q1272.3,193.3 1272.3,196 V201"/><path d="M1262.8,203.8 Q1262.8,201.3 1265.3,201.3 H1274.3 Q1276.8,201.3 1276.8,203.8 V216.5 L1272.8,212.8 H1265.3 Q1262.8,212.8 1262.8,210.3 Z" /></g>
<g stroke="#131722" stroke-width="1.2" fill="none" stroke-linecap="round" stroke-linejoin="round"><circle cx="1265.2" cy="512.5" r="13.4"/><circle cx="1265.2" cy="512.5" r="7.8"/><circle cx="1265.2" cy="512.5" r="2" fill="#131722"/><path d="M1265.2,512.5 L1272.6,505.8"/></g>
<g stroke="#131722" stroke-width="1.2" fill="none" stroke-linecap="round" stroke-linejoin="round"><rect x="1253.7" y="549.6" width="23" height="20.8" rx="3"/><path d="M1253.7,556.2 H1276.7"/><rect x="1257.8" y="547" width="3" height="5" rx="1.2" fill="#fff"/><rect x="1269.6" y="547" width="3" height="5" rx="1.2" fill="#fff"/></g>
<circle cx="1265.1" cy="605" r="17.1" fill="#2a2a2a"/>
<rect x="1256.0" y="596.0" width="4.2" height="4.2" rx="0.6" fill="#fff"/>
<rect x="1256.0" y="602.9" width="4.2" height="4.2" rx="0.6" fill="#fff"/>
<rect x="1256.0" y="609.8" width="4.2" height="4.2" rx="0.6" fill="#fff"/>
<rect x="1263.1" y="596.0" width="4.2" height="4.2" rx="0.6" fill="#fff"/>
<rect x="1263.1" y="602.9" width="4.2" height="4.2" rx="0.6" fill="#fff"/>
<rect x="1263.1" y="609.8" width="4.2" height="4.2" rx="0.6" fill="#fff"/>
<rect x="1270.2" y="596.0" width="4.2" height="4.2" rx="0.6" fill="#fff"/>
<rect x="1270.2" y="602.9" width="4.2" height="4.2" rx="0.6" fill="#fff"/>
<rect x="1270.2" y="609.8" width="4.2" height="4.2" rx="0.6" fill="#fff"/>
<rect x="1248" y="633" width="33" height="1" fill="#e4e4e6"/>
<g stroke="#131722" stroke-width="1.2" fill="none" stroke-linecap="round" stroke-linejoin="round"><circle cx="1256.1" cy="669.7" r="1.7"/><path d="M1256.1,662.4 A7.3,7.3 0 0 1 1263.4,669.7 M1256.1,656.2 A13.5,13.5 0 0 1 1269.6,669.7 M1256.1,650 A19.7,19.7 0 0 1 1275.8,669.7"/></g>
<circle cx="1274.7" cy="651" r="8.6" fill="#e8364b" stroke="#fff" stroke-width="1.2"/>
<text x="1274.7" y="655.3" font-size="12" font-weight="bold" fill="#fff" text-anchor="middle" font-family="Liberation Sans">2</text>
<g stroke="#131722" stroke-width="1.2" fill="none" stroke-linecap="round" stroke-linejoin="round"><path d="M1271.5,697 A13,13 0 0 0 1252.3,710.5 M1258,719.2 A13,13 0 0 0 1277.9,706.3"/><path d="M1261.5,704.7 A3.6,3.6 0 1 1 1266.6,707.9 Q1265,708.8 1265,710.8"/><circle cx="1265" cy="714.2" r="1.1"/><path d="M1276,693.8 Q1276.5,697.5 1280.2,698 Q1276.5,698.5 1276,702.2 Q1275.5,698.5 1271.8,698 Q1275.5,697.5 1276,693.8 Z M1253,712.3 Q1253.4,715 1256.1,715.4 Q1253.4,715.8 1253,718.5 Q1252.6,715.8 1249.9,715.4 Q1252.6,715 1253,712.3 Z" stroke-width="1.1"/></g>
<clipPath id="pill"><rect x="64" y="49.2" width="40" height="17.4" rx="8.7"/></clipPath>
<g clip-path="url(#pill)"><rect x="64" y="49" width="21" height="18" fill="#d5efe9"/><rect x="85" y="49" width="20" height="18" fill="#fbd4e1"/></g>
<circle cx="75" cy="58" r="4" fill="#1f9a85"/>
<text x="93" y="62.5" font-size="14" font-weight="bold" fill="#e0569b" text-anchor="middle" font-family="Liberation Sans">≈</text>
<g stroke="#3a3d47" stroke-width="1.15" fill="none" stroke-linecap="round"><path d="M93.3,130 Q101,119 108.7,130 Q101,141 93.3,130 Z"/><circle cx="101" cy="130" r="2.6"/><path d="M95.5,135.8 L106.5,124.2"/></g>
<rect x="64.5" y="145.7" width="28" height="19.6" rx="3" fill="#fff" fill-opacity="0.85" stroke="#dcdde0" stroke-width="1"/>
<path d="M74.8,157.3 L78.5,153.8 L82.2,157.3" stroke="#131722" stroke-width="1.5" fill="none" stroke-linecap="round" stroke-linejoin="round"/>
<g stroke="#131722" stroke-width="1.2" fill="none" stroke-linecap="round" stroke-linejoin="round"><path d="M1202.4,630.6 H1209.2 L1212.7,637.1 L1209.2,643.6 H1202.4 L1198.9,637.1 Z"/><circle cx="1205.8" cy="637.1" r="2.1"/></g>
<g stroke="#131722" stroke-width="1.2" fill="none" stroke-linecap="round" stroke-linejoin="round"><path d="M348,668.5 V665.3 Q348,663.3 350,663.3 H362 Q364,663.3 364,665.3 V676.5 Q364,678.5 362,678.5 H358.5 M348,668 H364 M351.8,661.3 V665 M360.2,661.3 V665 M346.5,674.5 H355 M352,671.3 L355.2,674.5 L352,677.7"/></g>
<g stroke="#131722" stroke-width="1.2" fill="none" stroke-linecap="round" stroke-linejoin="round"><path d="M1175.5,715.5 L1183.3,708.8 L1191,715.5"/><path d="M1211.5,709.5 V708 Q1211.5,705.5 1214,705.5 H1224 Q1226.5,705.5 1226.5,708 V709.5 M1226.5,714.5 V717 Q1226.5,719.5 1224,719.5 H1214 Q1211.5,719.5 1211.5,717 V714.5"/></g>
<g fill="#131722"><path d="M68.2,594 H80.2 V608.8 H74 V599.6 H68.2 Z"/><circle cx="84.8" cy="596.8" r="2.8"/><path d="M89.6,594 H98.2 L93.4,608.8 H84.9 Z"/></g>
<g stroke-width="1.3">
<circle cx="984.6" cy="585.1" r="9.3" fill="#fff" stroke="#7a3aa6"/>
<path d="M986.5,579.5 L981.5,585.8 H985.5 L983,591.2 L988,584.5 H984.2 Z" fill="#7a3aa6" stroke="none"/>
<circle cx="996.5" cy="584.7" r="9.8" fill="#fff" stroke="#d8505c"/>
<clipPath id="flag"><circle cx="996.5" cy="584.7" r="7.7"/></clipPath>
<g clip-path="url(#flag)" stroke="none"><rect x="988" y="576" width="18" height="18" fill="#fff"/>
<rect x="988" y="577.0" width="18" height="2.3" fill="#e0626b"/>
<rect x="988" y="581.6" width="18" height="2.3" fill="#e0626b"/>
<rect x="988" y="586.2" width="18" height="2.3" fill="#e0626b"/>
<rect x="988" y="590.8" width="18" height="2.3" fill="#e0626b"/>
<rect x="988" y="576" width="9.3" height="10.2" fill="#4a7fd6"/></g>
<circle cx="1007.5" cy="609.9" r="10" fill="#fdf3f4" stroke="#d8505c"/>
<circle cx="1007.5" cy="609.9" r="3.1" fill="#e5505e" stroke="none"/>
<circle cx="1002.6" cy="609.9" r="10" fill="#fdf3f4" stroke="#d8505c"/>
<circle cx="1002.6" cy="609.9" r="3.1" fill="#e5505e" stroke="none"/>
<circle cx="996" cy="609.9" r="10" fill="#fdf3f4" stroke="#d8505c"/>
<circle cx="996" cy="609.9" r="3.1" fill="#e5505e" stroke="none"/>
<circle cx="984.6" cy="609.9" r="10.2" fill="#fdf3f4" stroke="#d8505c"/>
<circle cx="984.6" cy="609.9" r="3.1" fill="#e5505e" stroke="none"/>
<circle cx="1008.6" cy="610" r="1.5" fill="#e5505e" stroke="none"/><circle cx="1014" cy="610" r="1.4" fill="#e5505e" stroke="none"/>
</g>
<path d="M0,722 Q1,729 6,732 H0 Z" fill="#4a0a3a"/>
<path d="M1287,724 Q1285,730 1280,732 H1287 Z" fill="#7a2a9a"/>
</svg>
</div></body></html>
